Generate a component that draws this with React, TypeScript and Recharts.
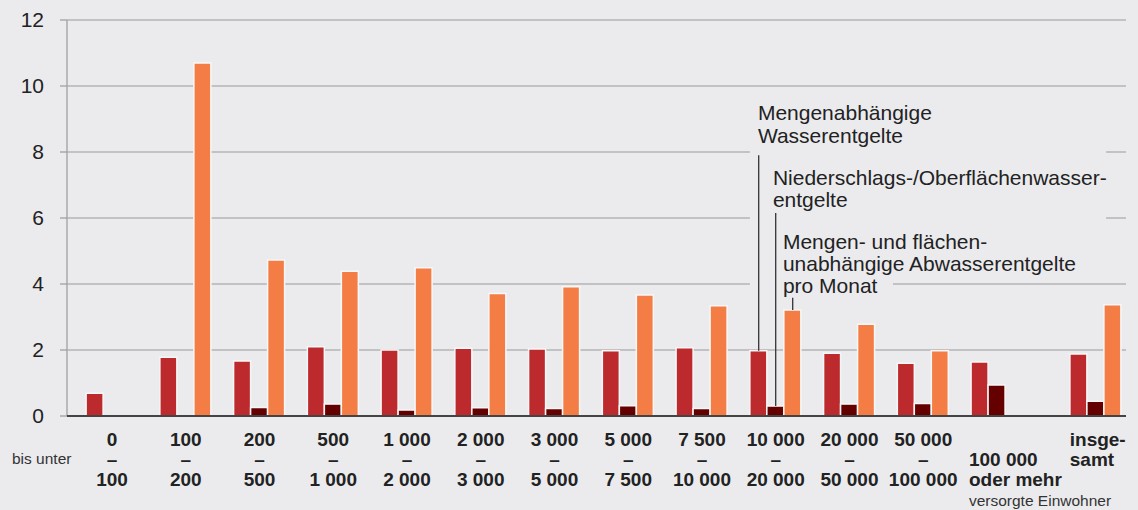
import React from "react";
import {
  BarChart,
  Bar,
  XAxis,
  YAxis,
  CartesianGrid,
  ReferenceArea,
  ReferenceLine,
} from "recharts";

// Kategorien (versorgte Einwohner), jeweils in Zeilen für die Achsenbeschriftung
const categoryLabels: string[][] = [
  ["0", "–", "100"],
  ["100", "–", "200"],
  ["200", "–", "500"],
  ["500", "–", "1 000"],
  ["1 000", "–", "2 000"],
  ["2 000", "–", "3 000"],
  ["3 000", "–", "5 000"],
  ["5 000", "–", "7 500"],
  ["7 500", "–", "10 000"],
  ["10 000", "–", "20 000"],
  ["20 000", "–", "50 000"],
  ["50 000", "–", "100 000"],
  ["", "100 000", "oder mehr"],
  ["insge-", "samt"],
];

// Mengenabhängige Wasserentgelte
const mengenWasser = [0.69, 1.78, 1.67, 2.1, 2.0, 2.05, 2.03, 1.98, 2.07, 1.98, 1.9, 1.6, 1.64, 1.88];
// Niederschlags-/Oberflächenwasserentgelte
const niederschlag = [null, null, 0.26, 0.36, 0.18, 0.25, 0.23, 0.31, 0.23, 0.3, 0.36, 0.38, 0.94, 0.45];
// Mengen- und flächenunabhängige Abwasserentgelte pro Monat
const grundentgelt = [null, 10.7, 4.73, 4.39, 4.49, 3.71, 3.92, 3.67, 3.34, 3.21, 2.78, 1.98, null, 3.37];

const yTicks = [0, 2, 4, 6, 8, 10, 12];

const W = 1138;
const H = 510;
const X_AXIS_H = 30;
const MARGIN = { top: 20, right: 12, bottom: 94 - X_AXIS_H, left: 0 };
const Y_AXIS_W = 67;
const X_DOMAIN: [number, number] = [-0.61, 13.75];
const TOTAL_SHIFT = 0.34; // extra space before "insgesamt"
const BAR_SIZE = 17;
const BAR_GAP = 0;

const BG = "#ebebee";
const RED = "#bc2a2e";
const DARK = "#650000";
const ORANGE = "#f47d45";
const TEXT = "#222";
const FONT = "'Liberation Sans', Arial, Helvetica, sans-serif";

const xPos = (i: number) => i + (i === categoryLabels.length - 1 ? TOTAL_SHIFT : 0);
const xTicks = categoryLabels.map((_, i) => xPos(i));

const data = categoryLabels.map((_, i) => ({
  x: xPos(i),
  mengenWasser: mengenWasser[i],
  niederschlag: niederschlag[i],
  grundentgelt: grundentgelt[i],
}));

const unitPx = (W - MARGIN.right - Y_AXIS_W) / (X_DOMAIN[1] - X_DOMAIN[0]);
const barStep = (BAR_SIZE + BAR_GAP) / unitPx;
const HL = 9; // Gruppe "10 000 – 20 000" mit den Hinweislinien

const ROWS = [446, 466, 486];

function CategoryTick(props: any) {
  const { x, payload } = props;
  const i = xTicks.findIndex((t) => Math.abs(t - payload.value) < 1e-6);
  if (i < 0) return null;
  const lines = categoryLabels[i];
  const leftAligned = i >= 12;
  const lx = leftAligned ? x - (i === 12 ? 28 : 26) : x;
  return (
    <g>
      {lines.map((l, k) =>
        l ? (
          <text
            key={k}
            x={lx}
            y={ROWS[k]}
            textAnchor={leftAligned ? "start" : "middle"}
            fontFamily={FONT}
            fontWeight="bold"
            fontSize={19}
            fill={TEXT}
          >
            {l}
          </text>
        ) : null
      )}
      {i === 0 && (
        <text x={12} y={464} fontFamily={FONT} fontSize={15.5} fill="#333">
          bis unter
        </text>
      )}
      {i === 12 && (
        <text x={lx} y={506} fontFamily={FONT} fontSize={15.5} fill="#333">
          versorgte Einwohner
        </text>
      )}
    </g>
  );
}

function NoteLabel(props: any) {
  const { viewBox, lines, dx, dy, lh } = props;
  if (!viewBox) return null;
  return (
    <g>
      {lines.map((l: string, k: number) => (
        <text
          key={k}
          x={viewBox.x + dx}
          y={viewBox.y + dy + k * lh}
          fontFamily={FONT}
          fontSize={21}
          fill={TEXT}
        >
          {l}
        </text>
      ))}
    </g>
  );
}

export default function App() {
  return (
    <div
      style={{
        position: "absolute",
        left: 0,
        top: 0,
        width: W,
        height: H,
        background: BG,
      }}
    >
      <BarChart
        width={W}
        height={H}
        data={data}
        margin={MARGIN}
        barSize={BAR_SIZE}
        barGap={BAR_GAP}
      >
        <CartesianGrid vertical={false} stroke="#9a9a9a" strokeWidth={1.2} />
        <YAxis
          width={Y_AXIS_W}
          domain={[0, 12]}
          ticks={yTicks}
          axisLine={{ stroke: "#aaa", strokeWidth: 1.5 }}
          tickLine={{ stroke: "#9a9a9a", strokeWidth: 1.2 }}
          tickSize={7}
          tickMargin={16}
          tick={{ fontSize: 21, fill: TEXT, fontFamily: FONT }}
        />
        <XAxis
          dataKey="x"
          type="number"
          height={X_AXIS_H}
          domain={X_DOMAIN}
          ticks={xTicks}
          interval={0}
          allowDataOverflow
          axisLine={{ stroke: "#444", strokeWidth: 2 }}
          tickLine={false}
          tick={<CategoryTick />}
        />
        <ReferenceArea
          x1={8.65}
          x2={13.48}
          y1={7.75}
          y2={9.6}
          fill={BG}
          fillOpacity={1}
          stroke="none"
          label={
            <NoteLabel
              lines={["Mengenabhängige", "Wasserentgelte"]}
              dx={8}
              dy={21}
              lh={23}
            />
          }
        />
        <ReferenceArea
          x1={8.65}
          x2={13.48}
          y1={5.75}
          y2={7.75}
          fill={BG}
          fillOpacity={1}
          stroke="none"
          label={
            <NoteLabel
              lines={["Niederschlags-/Oberflächenwasser-", "entgelte"]}
              dx={23}
              dy={25}
              lh={22}
            />
          }
        />
        <ReferenceArea
          x1={8.65}
          x2={10.59}
          y1={3.65}
          y2={5.75}
          fill={BG}
          fillOpacity={1}
          stroke="none"
          label={
            <NoteLabel
              lines={[
                "Mengen- und flächen-",
                "unabhängige Abwasserentgelte",
                "pro Monat",
              ]}
              dx={33}
              dy={23}
              lh={22}
            />
          }
        />
        <Bar
          dataKey="mengenWasser"
          fill={RED}
          stroke="#f7f7f7"
          strokeWidth={1.5}
          isAnimationActive={false}
        />
        <Bar
          dataKey="niederschlag"
          fill={DARK}
          stroke="#f7f7f7"
          strokeWidth={1.5}
          isAnimationActive={false}
        />
        <Bar
          dataKey="grundentgelt"
          fill={ORANGE}
          stroke="#f7f7f7"
          strokeWidth={1.5}
          isAnimationActive={false}
        />
        <ReferenceLine
          segment={[
            { x: HL - barStep, y: mengenWasser[HL] },
            { x: HL - barStep, y: 7.9 },
          ]}
          stroke="#333"
          strokeWidth={1.3}
        />
        <ReferenceLine
          segment={[
            { x: HL, y: niederschlag[HL] as number },
            { x: HL, y: 6.15 },
          ]}
          stroke="#333"
          strokeWidth={1.3}
        />
        <ReferenceLine
          segment={[
            { x: HL + barStep, y: grundentgelt[HL] as number },
            { x: HL + barStep, y: 3.58 },
          ]}
          stroke="#333"
          strokeWidth={1.3}
        />
      </BarChart>
    </div>
  );
}
